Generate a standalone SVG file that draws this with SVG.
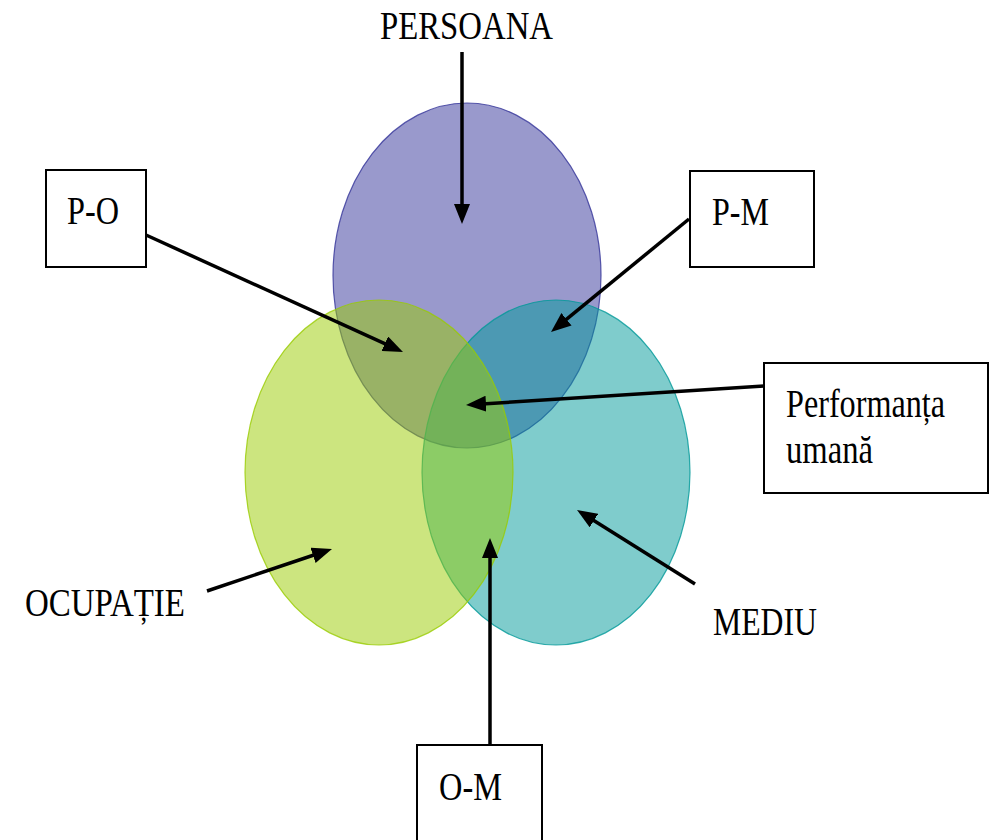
<svg xmlns="http://www.w3.org/2000/svg" width="994" height="840" viewBox="0 0 994 840">
<style>
.lbl{font-family:'Liberation Serif','Times New Roman',serif;font-size:40px;fill:#000}
.box{fill:#fff;stroke:#000;stroke-width:2}
.arr{stroke:#000;stroke-width:3.5;fill:none;marker-end:url(#ah)}
</style>
<defs>
<marker id="ah" viewBox="0 0 20 16" refX="12" refY="8" markerWidth="20" markerHeight="16" markerUnits="userSpaceOnUse" orient="auto">
<path d="M0,0 L20,8 L0,16 Z" fill="#000"/>
</marker>
</defs>
<rect width="994" height="840" fill="#fff"/>
<g id="persoana">
<ellipse cx="467" cy="275.5" rx="134" ry="172.5" fill="#333399" fill-opacity="0.5" stroke="#333399" stroke-opacity="0.8" stroke-width="1.2"/>
<text class="lbl" x="380" y="39" textLength="173" lengthAdjust="spacingAndGlyphs">PERSOANA</text>
</g>
<g id="mediu">
<ellipse cx="556" cy="472.5" rx="134" ry="172.5" fill="#009999" fill-opacity="0.5" stroke="#009999" stroke-opacity="0.8" stroke-width="1.2"/>
<text class="lbl" x="713" y="635" textLength="104" lengthAdjust="spacingAndGlyphs">MEDIU</text>
</g>
<g id="ocupatie">
<ellipse cx="379" cy="472.5" rx="134" ry="172.5" fill="#99cc00" fill-opacity="0.5" stroke="#99cc00" stroke-opacity="0.8" stroke-width="1.2"/>
<text class="lbl" x="25" y="616" textLength="160" lengthAdjust="spacingAndGlyphs">OCUPAȚIE</text>
</g>
<g id="connectors">
<path class="arr" d="M462,52 L462,216"/>
<path class="arr" d="M146,235 L395.7,348.7"/>
<path class="arr" d="M689,219 L557.2,326.9"/>
<path class="arr" d="M764,386 L474,404.5"/>
<path class="arr" d="M207,591 L324.4,551.5"/>
<path class="arr" d="M695,584 L583.8,514.2"/>
<path class="arr" d="M490,745 L490,546"/>
</g>
<g id="p-o">
<rect class="box" x="46" y="170" width="100" height="97"/>
<text class="lbl" x="67" y="224" textLength="52" lengthAdjust="spacingAndGlyphs">P-O</text>
</g>
<g id="p-m">
<rect class="box" x="690" y="171" width="124" height="96"/>
<text class="lbl" x="712" y="225" textLength="57" lengthAdjust="spacingAndGlyphs">P-M</text>
</g>
<g id="performanta">
<rect class="box" x="764" y="363" width="224" height="130"/>
<text class="lbl" x="786" y="417" textLength="159" lengthAdjust="spacingAndGlyphs">Performanța</text>
<text class="lbl" x="786" y="463" textLength="87" lengthAdjust="spacingAndGlyphs">umană</text>
</g>
<g id="o-m">
<rect class="box" x="417" y="745" width="125" height="110"/>
<text class="lbl" x="439" y="800" textLength="63" lengthAdjust="spacingAndGlyphs">O-M</text>
</g>
</svg>
